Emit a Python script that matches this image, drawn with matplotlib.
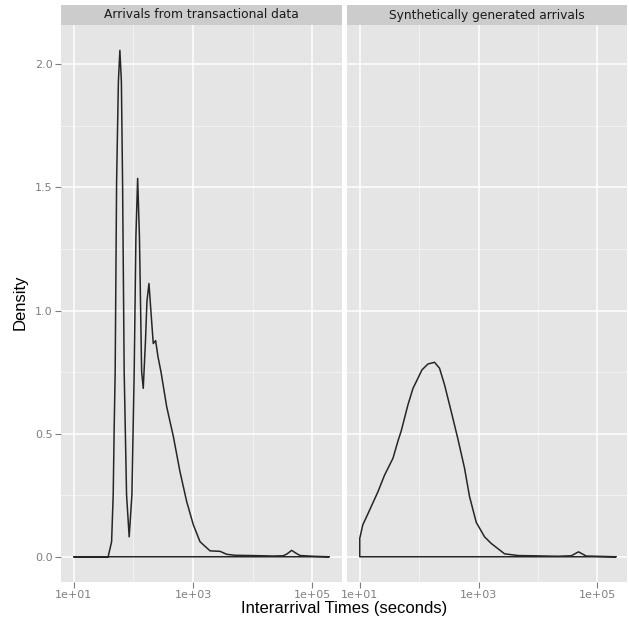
import matplotlib
matplotlib.use('Agg')
import matplotlib.pyplot as plt
import numpy as np

#----データ(log10(秒), 密度)----
panel_titles = ['Arrivals from transactional data', 'Synthetically generated arrivals']

log_t_real = [1.000, 1.504, 1.576, 1.634, 1.661, 1.677, 1.694, 1.718, 1.748, 1.773,
              1.798, 1.818, 1.845, 1.885, 1.929, 1.975, 2.013, 2.042, 2.071, 2.101,
              2.138, 2.165, 2.202, 2.227, 2.261, 2.294, 2.333, 2.373, 2.412, 2.462,
              2.558, 2.613, 2.669, 2.781, 2.894, 3.005, 3.118, 3.286, 3.454, 3.566,
              3.706, 3.958, 4.345, 4.513, 4.580, 4.655, 4.731, 4.798, 5.017, 5.286]
dens_real = [0.000, 0.000, 0.000, 0.061, 0.252, 0.520, 0.752, 1.524, 1.931, 2.057,
             1.931, 1.524, 0.752, 0.252, 0.081, 0.252, 0.752, 1.301, 1.537, 1.301,
             0.752, 0.684, 0.874, 1.037, 1.110, 0.996, 0.866, 0.878, 0.813, 0.752,
             0.610, 0.550, 0.490, 0.346, 0.224, 0.130, 0.061, 0.024, 0.022, 0.010,
             0.006, 0.005, 0.003, 0.004, 0.012, 0.026, 0.014, 0.005, 0.002, 0.000]

log_t_synth = [1.000, 1.050, 1.140, 1.306, 1.418, 1.559, 1.643, 1.699, 1.811, 1.896,
               1.951, 2.047, 2.148, 2.259, 2.343, 2.428, 2.540, 2.653, 2.764, 2.848,
               2.961, 3.101, 3.214, 3.438, 3.663, 4.337, 4.561, 4.683, 4.813, 5.318]
dens_synth = [0.075, 0.129, 0.176, 0.264, 0.332, 0.400, 0.470, 0.512, 0.617, 0.684,
              0.711, 0.759, 0.783, 0.790, 0.766, 0.698, 0.590, 0.478, 0.360, 0.245,
              0.140, 0.081, 0.054, 0.012, 0.005, 0.002, 0.004, 0.020, 0.003, 0.000]

x_ticks = [1e1, 1e3, 1e5]
x_tick_labels = ['1e+01', '1e+03', '1e+05']
x_minor = [1e2, 1e4]
y_ticks = [0.0, 0.5, 1.0, 1.5, 2.0]
y_minor = [0.25, 0.75, 1.25, 1.75]

#----スタイル----
panel_bg = '#E5E5E5'
strip_bg = '#CCCCCC'
tick_col = '#7F7F7F'

fig = plt.figure(figsize=(6.29, 6.24), dpi=100)
W, H = 629.0, 624.0
top, bottom = 25, 582
panels_px = [(61, 342), (347, 627)]

series = [(log_t_real, dens_real), (log_t_synth, dens_synth)]

for i, ((x0, x1), (lx, dy)) in enumerate(zip(panels_px, series)):
    ax = fig.add_axes([x0 / W, 1 - bottom / H, (x1 - x0) / W, (bottom - top) / H])
    ax.set_facecolor(panel_bg)
    ax.set_xscale('log')
    ax.set_xlim(10 ** 0.785, 10 ** 5.50)
    ax.set_ylim(-0.1025, 2.16)

    for v in x_minor:
        ax.axvline(v, color='#F2F2F2', lw=0.7, zorder=0)
    for v in y_minor:
        ax.axhline(v, color='#F2F2F2', lw=0.7, zorder=0)
    for v in x_ticks:
        ax.axvline(v, color='white', lw=1.1, zorder=0)
    for v in y_ticks:
        ax.axhline(v, color='white', lw=1.1, zorder=0)

    # 密度曲線(ベースラインで閉じた多角形)
    xs = np.concatenate([[lx[0]], lx, [lx[-1]]])
    ys = np.concatenate([[0.0], dy, [0.0]])
    ax.fill(10 ** xs, ys, facecolor='none', edgecolor='#262626', lw=1.1,
            joinstyle='round', zorder=3)

    ax.set_xticks(x_ticks)
    ax.set_xticklabels(x_tick_labels)
    ax.xaxis.set_minor_locator(matplotlib.ticker.NullLocator())
    ax.set_yticks(y_ticks)
    ax.tick_params(colors=tick_col, labelsize=8, length=4, width=0.8, pad=2)
    if i == 0:
        ax.set_yticklabels(['%.1f' % v for v in y_ticks])
    else:
        ax.set_yticklabels([])
        ax.tick_params(axis='y', length=0)
    for s in ax.spines.values():
        s.set_visible(False)

    # ストリップ
    sax = fig.add_axes([x0 / W, 1 - top / H, (x1 - x0) / W, 20 / H])
    sax.set_facecolor(strip_bg)
    sax.set_xticks([])
    sax.set_yticks([])
    for s in sax.spines.values():
        s.set_visible(False)
    sax.text(0.5, 0.5, panel_titles[i], ha='center', va='center', fontsize=8.8,
             color='#1A1A1A', transform=sax.transAxes)

fig.text((61 + 627) / 2 / W, 1 - 609 / H, 'Interarrival Times (seconds)', ha='center',
         va='center', fontsize=12, family='Liberation Sans')
fig.text(20 / W, 1 - 302 / H, 'Density', ha='center', va='center', rotation=90,
         fontsize=12, family='Liberation Sans')

fig.savefig('out.png', dpi=100)
